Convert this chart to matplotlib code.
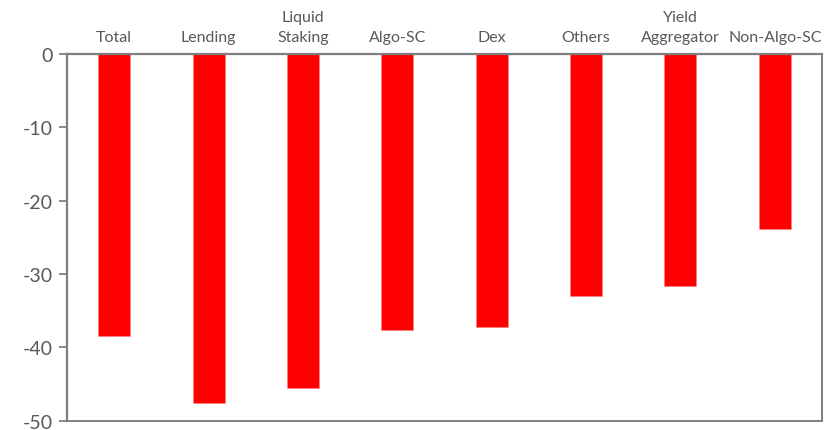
import matplotlib
matplotlib.use("Agg")
import matplotlib.pyplot as plt

plt.rcParams['font.family'] = ['Lato', 'DejaVu Sans']

categories = ["Total", "Lending", "Liquid\nStaking", "Algo-SC", "Dex",
              "Others", "Yield\nAggregator", "Non-Algo-SC"]
changes = [-38.5, -47.6, -45.5, -37.7, -37.2, -33.0, -31.6, -23.8]
yticks = [0, -10, -20, -30, -40, -50]

grey = "#595959"
frame = "#7f7f7f"

fig = plt.figure(figsize=(8.39, 4.31), dpi=100)
ax = fig.add_axes([0.0799, 0.0216, 0.8998, 0.8508])

x = list(range(len(categories)))
ax.bar(x, changes, width=0.34, color="#ff0000", edgecolor="#ff8080", linewidth=0.4)

ax.set_xlim(-0.5, len(categories) - 0.5)
ax.set_ylim(-50, 0)
ax.set_yticks(yticks)
ax.set_yticklabels([str(v) for v in yticks])

ax.xaxis.tick_top()
ax.set_xticks(x)
ax.set_xticklabels(categories, fontsize=11.5, color=grey, linespacing=1.6)
ax.tick_params(axis="x", length=0, pad=7)
ax.tick_params(axis="y", direction="out", length=6, width=1.3, color=frame,
               labelsize=14, labelcolor=grey, pad=4)

for side in ["left", "top"]:
    ax.spines[side].set_color(frame)
    ax.spines[side].set_linewidth(1.6)
for side in ["right", "bottom"]:
    ax.spines[side].set_color(frame)
    ax.spines[side].set_linewidth(1.4)

fig.savefig("out.png", dpi=100)
